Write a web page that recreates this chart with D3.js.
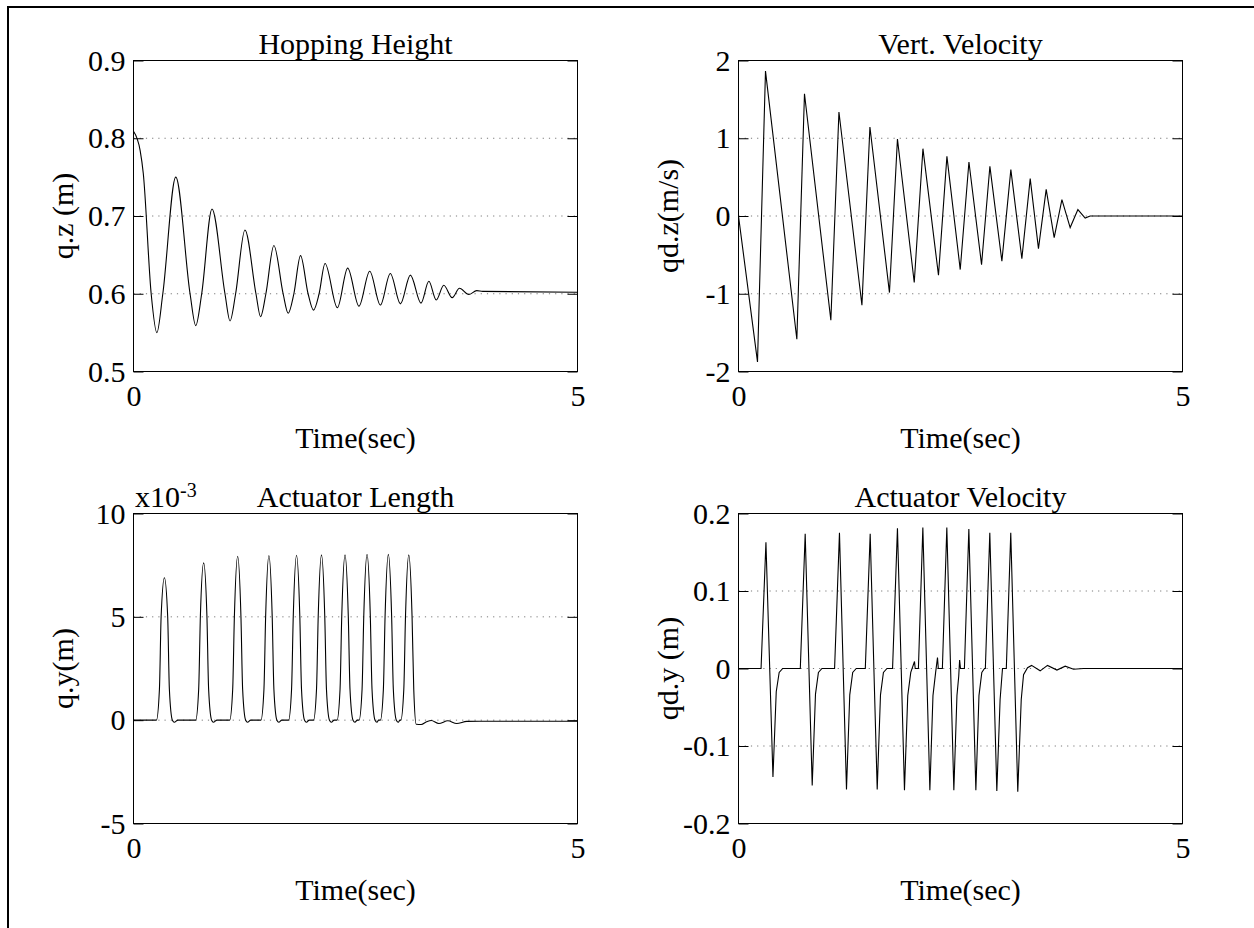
<!DOCTYPE html>
<html>
<head>
<meta charset="utf-8">
<script src="https://cdnjs.cloudflare.com/ajax/libs/d3/7.8.5/d3.min.js"></script>
<style>
body { margin: 0; background: #fff; }
svg text { font-family: "Liberation Serif", "Times New Roman", serif; fill: #000; }
</style>
</head>
<body>
<div id="wrapper"></div>
<script>
// time axis shared by all four panels
const timeDomain = [0, 5];
const timeTicks = [0, 5];
const timeTickLabels = ["0", "5"];

// Hopping Height, q.z (m)
const heightDomain = [0.5, 0.9];
const heightTicks = [0.5, 0.6, 0.7, 0.8, 0.9];
const heightTickLabels = ["0.5", "0.6", "0.7", "0.8", "0.9"];
const hopHeight = [
  [0, 0.809], [0.075, 0.784], [0.11, 0.755], [0.199, 0.6], [0.263, 0.550], [0.33, 0.6],
  [0.476, 0.750], [0.637, 0.6], [0.701, 0.559], [0.768, 0.6], [0.884, 0.709], [1.03, 0.6],
  [1.087, 0.565], [1.15, 0.6], [1.255, 0.682], [1.379, 0.6], [1.431, 0.5705], [1.491, 0.6],
  [1.581, 0.662], [1.685, 0.6], [1.742, 0.575], [1.806, 0.6], [1.881, 0.649], [1.966, 0.6],
  [2.027, 0.579], [2.09, 0.6], [2.157, 0.639], [2.296, 0.582], [2.412, 0.633], [2.539, 0.584],
  [2.66, 0.629], [2.78, 0.5855], [2.892, 0.626], [3.006, 0.587], [3.118, 0.624], [3.238, 0.588],
  [3.326, 0.616], [3.409, 0.592], [3.494, 0.611], [3.589, 0.595], [3.671, 0.607], [3.775, 0.599],
  [3.865, 0.604], [3.933, 0.603], [5, 0.602]
];

// Vert. Velocity, qd.z (m/s)
const vertVelDomain = [-2, 2];
const vertVelTicks = [-2, -1, 0, 1, 2];
const vertVelTickLabels = ["-2", "-1", "0", "1", "2"];
const vertVel = [
  [0, 0], [0.214, -1.877], [0.304, 1.864], [0.657, -1.585], [0.743, 1.573], [1.04, -1.341],
  [1.131, 1.337], [1.39, -1.148], [1.48, 1.144], [1.70, -0.985], [1.79, 0.99], [1.979, -0.856],
  [2.077, 0.866], [2.252, -0.762], [2.347, 0.767], [2.497, -0.689], [2.595, 0.694], [2.737, -0.625],
  [2.831, 0.639], [2.966, -0.582], [3.067, 0.596], [3.191, -0.548], [3.285, 0.481], [3.378, -0.419],
  [3.465, 0.343], [3.555, -0.278], [3.642, 0.211], [3.735, -0.149], [3.822, 0.082], [3.904, -0.026],
  [3.96, 0], [5, 0]
];

// Actuator Length, q.y (m), values in units of 1e-3
const actLenDomain = [-5, 10];
const actLenTicks = [-5, 0, 5, 10];
const actLenTickLabels = ["-5", "0", "5", "10"];
const actLen = [
  [0, 0], [0.258, 0], [0.292, 1.5], [0.311, 5], [0.348, 6.89], [0.385, 5], [0.404, 1.5], [0.438, 0], [0.46, -0.1], [0.50, 0],
  [0.70, 0], [0.734, 1.5], [0.753, 5], [0.79, 7.61], [0.827, 5], [0.846, 1.5], [0.88, 0], [0.90, -0.1], [0.94, 0],
  [1.083, 0], [1.117, 1.5], [1.136, 5], [1.173, 7.93], [1.21, 5], [1.229, 1.5], [1.263, 0], [1.285, -0.1], [1.32, 0],
  [1.435, 0], [1.469, 1.5], [1.488, 5], [1.525, 7.97], [1.562, 5], [1.581, 1.5], [1.615, 0], [1.637, -0.1], [1.67, 0],
  [1.746, 0], [1.78, 1.5], [1.799, 5], [1.836, 7.98], [1.873, 5], [1.892, 1.5], [1.926, 0], [1.948, -0.1], [1.98, 0],
  [2.027, 0], [2.061, 1.5], [2.08, 5], [2.117, 8.0], [2.154, 5], [2.173, 1.5], [2.207, 0], [2.229, -0.1], [2.26, 0],
  [2.292, 0], [2.326, 1.5], [2.345, 5], [2.382, 8.0], [2.419, 5], [2.438, 1.5], [2.472, 0], [2.494, -0.1], [2.52, 0],
  [2.54, 0], [2.574, 1.5], [2.593, 5], [2.63, 8.02], [2.667, 5], [2.686, 1.5], [2.72, 0], [2.742, -0.1], [2.76, 0],
  [2.78, 0], [2.814, 1.5], [2.833, 5], [2.87, 8.02], [2.907, 5], [2.926, 1.5], [2.96, 0], [2.982, -0.1], [3.0, 0],
  [3.01, 0], [3.044, 1.5], [3.063, 5], [3.10, 8.0], [3.137, 5], [3.156, 1.5], [3.184, -0.2], [3.24, -0.21],
  [3.30, -0.08], [3.353, -0.015], [3.438, -0.16], [3.54, -0.03], [3.64, -0.16], [3.753, -0.06], [3.896, -0.05], [5, -0.05]
];

// Actuator Velocity, qd.y (m)
const actVelDomain = [-0.2, 0.2];
const actVelTicks = [-0.2, -0.1, 0, 0.1, 0.2];
const actVelTickLabels = ["-0.2", "-0.1", "0", "0.1", "0.2"];
const actVel = [
  [0, 0], [0.254, 0], [0.309, 0.163], [0.388, -0.14], [0.425, -0.03], [0.458, -0.005], [0.498, 0],
  [0.696, 0], [0.751, 0.174], [0.83, -0.151], [0.867, -0.033], [0.90, -0.005], [0.94, 0],
  [1.082, 0], [1.137, 0.175], [1.216, -0.156], [1.253, -0.034], [1.286, -0.005], [1.326, 0],
  [1.428, 0], [1.483, 0.174], [1.562, -0.156], [1.599, -0.034], [1.632, -0.005], [1.672, 0],
  [1.735, 0], [1.79, 0.181], [1.869, -0.157], [1.906, -0.035], [1.94, -0.005], [1.982, 0.009], [1.99, 0],
  [2.026, 0], [2.076, 0.182], [2.155, -0.157], [2.19, -0.035], [2.22, -0.005], [2.241, 0.014], [2.25, 0],
  [2.296, 0], [2.346, 0.182], [2.425, -0.157], [2.46, -0.035], [2.48, -0.01], [2.49, 0.011], [2.50, 0],
  [2.544, 0], [2.594, 0.180], [2.673, -0.157], [2.708, -0.035], [2.74, -0.005], [2.77, 0],
  [2.78, 0], [2.83, 0.175], [2.909, -0.158], [2.946, -0.04], [2.973, 0],
  [3.016, 0], [3.066, 0.175], [3.145, -0.159], [3.184, -0.04], [3.21, -0.008], [3.255, 0.001],
  [3.30, 0.004], [3.397, -0.003], [3.48, 0.004], [3.586, -0.002], [3.679, 0.003], [3.773, -0.001],
  [3.885, 0], [5, 0]
];

const dimensions = {
  width: 1254,
  height: 928,
  fontSize: 30,
  colX: [133.5, 738.5],
  rowY: [60.5, 513.5],
  plotWidth: 444,
  plotHeight: [311, 310],
};

const svg = d3.select("#wrapper").append("svg")
  .attr("width", dimensions.width)
  .attr("height", dimensions.height);

// outer frame (right and bottom edges fall outside the window)
svg.append("rect")
  .attr("x", 8).attr("y", 7)
  .attr("width", 1300).attr("height", 1000)
  .attr("fill", "none").attr("stroke", "#000").attr("stroke-width", 2);

function drawPanel(p) {
  const w = dimensions.plotWidth;
  const h = dimensions.plotHeight[p.row];
  const bounds = svg.append("g")
    .attr("transform", `translate(${dimensions.colX[p.col]},${dimensions.rowY[p.row]})`);

  const xScale = d3.scaleLinear().domain(timeDomain).range([0, w]);
  const yScale = d3.scaleLinear().domain(p.yDomain).range([h, 0]);

  // dotted grid lines at the inner y ticks
  const inner = p.yTicks.filter(d => d !== p.yDomain[0] && d !== p.yDomain[1]);
  bounds.append("g").selectAll("line")
    .data(inner)
    .join("line")
    .attr("x1", 0).attr("x2", w)
    .attr("y1", d => yScale(d)).attr("y2", d => yScale(d))
    .attr("stroke", "#7a7a7a")
    .attr("stroke-width", 1)
    .attr("stroke-dasharray", "1.2,5");

  const line = d3.line()
    .x(d => xScale(d[0]))
    .y(d => yScale(d[1]))
    .curve(p.curve);

  bounds.append("path")
    .attr("d", line(p.data))
    .attr("fill", "none")
    .attr("stroke", "#000")
    .attr("stroke-width", 1.1);

  const yAxisLeft = d3.axisLeft(yScale)
    .tickValues(p.yTicks)
    .tickFormat((d, i) => p.yLabels[i])
    .tickSize(-10)
    .tickSizeOuter(0)
    .tickPadding(8);
  const yAxisRight = d3.axisRight(yScale)
    .tickValues(p.yTicks)
    .tickFormat("")
    .tickSize(-10)
    .tickSizeOuter(0);
  const xAxis = d3.axisBottom(xScale)
    .tickValues(timeTicks)
    .tickFormat((d, i) => timeTickLabels[i])
    .tickSize(0)
    .tickSizeOuter(0)
    .tickPadding(13);

  const gl = bounds.append("g").call(yAxisLeft);
  const gr = bounds.append("g").attr("transform", `translate(${w},0)`).call(yAxisRight);
  const gx = bounds.append("g").attr("transform", `translate(0,${h})`).call(xAxis);
  [gl, gr, gx].forEach(g => {
    g.select(".domain").remove();
    g.selectAll("line").attr("stroke", "#000");
    g.selectAll("text")
      .style("font-family", '"Liberation Serif", "Times New Roman", serif')
      .style("font-size", dimensions.fontSize + "px")
      .attr("fill", "#000");
  });

  bounds.append("rect")
    .attr("x", 0).attr("y", 0)
    .attr("width", w).attr("height", h)
    .attr("fill", "none")
    .attr("stroke", "#000")
    .attr("stroke-width", 1);

  bounds.append("text")
    .attr("x", w / 2).attr("y", -6.5)
    .attr("text-anchor", "middle")
    .style("font-size", dimensions.fontSize + "px")
    .text(p.title);

  bounds.append("text")
    .attr("x", w / 2).attr("y", h + 76)
    .attr("text-anchor", "middle")
    .style("font-size", dimensions.fontSize + "px")
    .text("Time(sec)");

  bounds.append("text")
    .attr("transform", `translate(-61,${h / 2}) rotate(-90)`)
    .attr("text-anchor", "middle")
    .style("font-size", dimensions.fontSize + "px")
    .text(p.yTitle);

  if (p.exponent) {
    const ex = bounds.append("text")
      .attr("x", 1.5).attr("y", -6.5)
      .style("font-size", dimensions.fontSize + "px");
    ex.append("tspan").text("x10");
    ex.append("tspan").attr("dy", -10).style("font-size", "20px").text(p.exponent);
  }
}

drawPanel({ col: 0, row: 0, yDomain: heightDomain, yTicks: heightTicks, yLabels: heightTickLabels,
  data: hopHeight, curve: d3.curveMonotoneX, title: "Hopping Height", yTitle: "q.z (m)" });
drawPanel({ col: 1, row: 0, yDomain: vertVelDomain, yTicks: vertVelTicks, yLabels: vertVelTickLabels,
  data: vertVel, curve: d3.curveLinear, title: "Vert. Velocity", yTitle: "qd.z(m/s)" });
drawPanel({ col: 0, row: 1, yDomain: actLenDomain, yTicks: actLenTicks, yLabels: actLenTickLabels,
  data: actLen, curve: d3.curveMonotoneX, title: "Actuator Length", yTitle: "q.y(m)", exponent: "-3" });
drawPanel({ col: 1, row: 1, yDomain: actVelDomain, yTicks: actVelTicks, yLabels: actVelTickLabels,
  data: actVel, curve: d3.curveLinear, title: "Actuator Velocity", yTitle: "qd.y (m)" });
</script>
</body>
</html>
